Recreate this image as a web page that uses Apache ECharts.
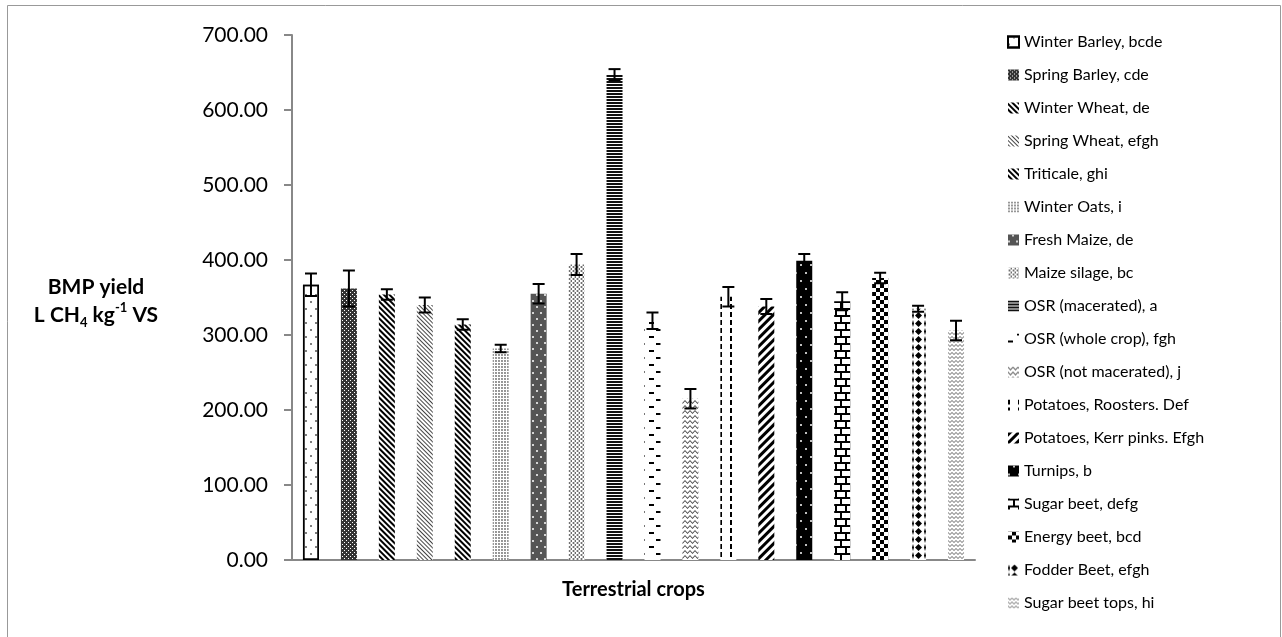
<!DOCTYPE html>
<html>
<head>
<meta charset="utf-8">
<script src="https://cdn.jsdelivr.net/npm/echarts@6/dist/echarts.min.js"></script>
<style>
html,body{margin:0;padding:0;background:#fff;}
#chart{width:1282px;height:637px;}
</style>
</head>
<body>
<div id="chart"></div>
<script>
// ---- data ----
const crops = ['Winter Barley, bcde', 'Spring Barley, cde', 'Winter Wheat, de', 'Spring Wheat, efgh', 'Triticale, ghi', 'Winter Oats, i', 'Fresh Maize, de', 'Maize silage, bc', 'OSR (macerated), a', 'OSR (whole crop), fgh', 'OSR (not macerated), j', 'Potatoes, Roosters. Def', 'Potatoes, Kerr pinks. Efgh', 'Turnips, b', 'Sugar beet, defg', 'Energy beet, bcd', 'Fodder Beet, efgh', 'Sugar beet tops, hi'];
const bmp = [367, 362, 354, 340, 314, 282, 355, 394, 647, 319, 215, 351, 338, 399, 345, 376, 335, 306];
const bmpErr = [15, 24, 7, 10, 7, 5, 13, 14, 7.5, 11, 13, 13, 10, 9, 12, 7, 4, 13];
const yTicks = [0, 100, 200, 300, 400, 500, 600, 700];

const FONT = 'Lato, "Open Sans", sans-serif';
const D = Math.PI / 4;

// fill styles (pattern per crop)
const styles = [
  {color:'#fff', borderColor:'#000', borderWidth:1.5, decal:{symbol:'circle', color:'#555', dashArrayX:[[2,8],[0,5,2,3]], dashArrayY:[2,5]}},
  {color:'#333', decal:{symbol:'rect', color:'#fff', symbolSize:1, dashArrayX:[[1,3],[0,2,1,1]], dashArrayY:[1,1]}},
  {color:'#fff', decal:{symbol:'rect', color:'#000', dashArrayX:[1,0], dashArrayY:[2,2], rotation:D}},
  {color:'#fff', decal:{symbol:'rect', color:'#444', dashArrayX:[1,0], dashArrayY:[1,2], rotation:D}},
  {color:'#fff', decal:{symbol:'rect', color:'#000', dashArrayX:[1,0], dashArrayY:[2,2], rotation:D}},
  {color:'#fff', decal:{symbol:'circle', color:'#666', symbolSize:0.9, dashArrayX:[2,1], dashArrayY:[2,1]}},
  {color:'#555', decal:{symbol:'circle', color:'#fff', dashArrayX:[[2,6],[0,4,2,2]], dashArrayY:[2,4]}},
  {color:'#fff', decal:{symbol:'diamond', color:'#555', symbolSize:1, dashArrayX:[[3,1],[0,2,3,-1]], dashArrayY:[2,0]}},
  {color:'#fff', decal:{symbol:'rect', color:'#111', dashArrayX:[1,0], dashArrayY:[2,1]}},
  {color:'#fff', decal:{symbol:'rect', color:'#000', dashArrayX:[[5,11],[0,9,5,2]], dashArrayY:[2,5]}},
  {color:'#fff', decal:{symbol:'path://M0,0 L5,4 L10,0 L10,2 L5,6 L0,2 Z', symbolKeepAspect:false, color:'#444', dashArrayX:[5,0], dashArrayY:[4,1]}},
  {color:'#fff', decal:{symbol:'rect', color:'#000', dashArrayX:[2,8], dashArrayY:[5,3]}},
  {color:'#fff', decal:{symbol:'rect', color:'#000', dashArrayX:[1,0], dashArrayY:[3,3], rotation:-D}},
  {color:'#000', decal:{symbol:'circle', color:'#fff', dashArrayX:[[2,8],[0,5,2,3]], dashArrayY:[2,6]}},
  {color:'#fff', decal:{symbol:'rect', color:'#000', dashArrayX:[[1,0],[2,8],[1,0],[0,5,2,3]], dashArrayY:[2,0,5,0]}},
  {color:'#fff', decal:{symbol:'rect', color:'#000', dashArrayX:[[4,4],[0,4,4,0]], dashArrayY:[4,0]}},
  {color:'#fff', decal:{symbol:'diamond', color:'#000', dashArrayX:[[2,1,7,2]], dashArrayY:[7,1]}},
  {color:'#fff', decal:{symbol:'path://M0,0 L5,4 L10,0 L10,2 L5,6 L0,2 Z', symbolKeepAspect:false, color:'#666', dashArrayX:[4,0], dashArrayY:[3,1]}}
];

const series = crops.map((name, i) => ({
  name: name,
  type: 'bar',
  stack: 'crops',
  barWidth: 16,
  itemStyle: styles[i],
  emphasis: {disabled: true},
  data: crops.map((c, j) => (j === i ? bmp[i] : '-'))
}));

series.push({
  name: 'error',
  type: 'custom',
  z: 10,
  silent: true,
  data: bmp.map((v, i) => [i, v, bmpErr[i]]),
  renderItem: function (params, api) {
    const i = api.value(0), v = api.value(1), e = api.value(2);
    const top = api.coord([i, v + e]);
    const bot = api.coord([i, v - e]);
    const hw = 6;
    const st = {stroke: '#000', lineWidth: 2};
    return {
      type: 'group',
      children: [
        {type: 'line', shape: {x1: top[0], y1: top[1], x2: bot[0], y2: bot[1]}, style: st},
        {type: 'line', shape: {x1: top[0] - hw, y1: top[1], x2: top[0] + hw, y2: top[1]}, style: st},
        {type: 'line', shape: {x1: bot[0] - hw, y1: bot[1], x2: bot[0] + hw, y2: bot[1]}, style: st}
      ]
    };
  }
});

const chart = echarts.init(document.getElementById('chart'), null, {renderer: 'canvas'});
chart.setOption({
  animation: false,
  backgroundColor: '#fff',
  textStyle: {fontFamily: FONT},
  grid: {left: 292, right: 307, top: 35, bottom: 77, containLabel: false},
  xAxis: {
    type: 'category',
    data: crops,
    name: 'Terrestrial crops',
    nameLocation: 'middle',
    nameGap: 20,
    nameTextStyle: {fontFamily: FONT, fontSize: 20, fontWeight: 'bold', color: '#000'},
    axisLine: {lineStyle: {color: '#888', width: 2}},
    axisTick: {show: false},
    axisLabel: {show: false},
    splitLine: {show: false}
  },
  yAxis: {
    type: 'value',
    min: yTicks[0],
    max: yTicks[yTicks.length - 1],
    interval: 100,
    axisLine: {show: true, lineStyle: {color: '#888', width: 2}},
    axisTick: {show: true, length: 8, lineStyle: {color: '#888', width: 2}},
    axisLabel: {fontFamily: FONT, fontSize: 21, color: '#000', margin: 24, formatter: v => v.toFixed(2)},
    splitLine: {show: false}
  },
  legend: {
    orient: 'vertical',
    left: 1002,
    top: 27,
    data: crops,
    icon: 'rect',
    itemWidth: 11,
    itemHeight: 11,
    itemGap: 13,
    selectedMode: false,
    textStyle: {fontFamily: FONT, fontSize: 16, color: '#000', lineHeight: 20}
  },
  graphic: [
    {type: 'rect', silent: true, shape: {x: 7.5, y: 5.5, width: 1273, height: 700}, style: {fill: 'none', stroke: '#999', lineWidth: 1}},
    {
      type: 'text', silent: true, x: 96, y: 301,
      style: {
        text: '{b|BMP yield}\n{b|L CH}{sub|4}{b| kg}{sup|-1}{b| VS}',
        textAlign: 'center', textVerticalAlign: 'middle',
        rich: {
          b: {fontFamily: FONT, fontSize: 21, fontWeight: 'bold', fill: '#000', color: '#000', lineHeight: 28, align: 'center'},
          sub: {fontFamily: FONT, fontSize: 13, fontWeight: 'bold', fill: '#000', color: '#000', lineHeight: 20, verticalAlign: 'bottom', align: 'center'},
          sup: {fontFamily: FONT, fontSize: 13, fontWeight: 'bold', fill: '#000', color: '#000', lineHeight: 20, verticalAlign: 'top', align: 'center'}
        }
      }
    }
  ],
  series: series
});
</script>
</body>
</html>
